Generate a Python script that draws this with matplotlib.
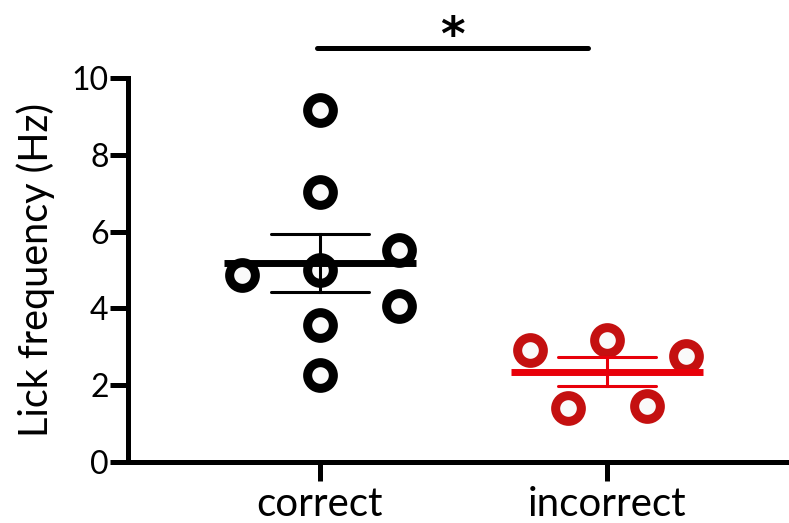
"""
Lick frequency for correct vs incorrect trials: individual points with mean +/- SEM.
"""
import numpy as np
import matplotlib
matplotlib.use('Agg')
import matplotlib.pyplot as plt

groups = ['correct', 'incorrect']

# individual animals (Hz) and their horizontal jitter within each group
correct_vals = [9.17, 7.02, 4.88, 5.01, 5.51, 4.05, 3.56, 2.27]
correct_offsets = [0.0, 0.0, -0.273, 0.0, 0.275, 0.275, 0.0, 0.0]
incorrect_vals = [2.91, 3.18, 2.77, 1.41, 1.47]
incorrect_offsets = [-0.27, 0.0, 0.275, -0.135, 0.138]

yticks = [0, 2, 4, 6, 8, 10]

plt.rcParams['font.family'] = ['Lato', 'DejaVu Sans']

fig = plt.figure(figsize=(7.89, 5.23), dpi=100)
ax = fig.add_axes([0.1622, 0.1166, 0.8378, 0.7343])

series = [
    (correct_vals, correct_offsets, 'black', 'black'),
    (incorrect_vals, incorrect_offsets, '#c41010', '#e8000a'),
]

for pos, (vals, offs, mcolor, lcolor) in enumerate(series):
    vals = np.asarray(vals)
    x = pos + np.asarray(offs)
    ax.plot(x, vals, 'o', ms=18.5, mew=6.5, mfc='#fafafa', mec=mcolor,
            linestyle='none', zorder=3, clip_on=False)

    mean = vals.mean()
    sem = vals.std(ddof=1) / np.sqrt(len(vals))
    ax.plot([pos - 0.333, pos + 0.333], [mean, mean], color=lcolor, lw=5, zorder=4,
            solid_capstyle='butt')
    ax.plot([pos, pos], [mean - sem, mean + sem], color=lcolor, lw=2.2, zorder=4)
    for cap in (mean - sem, mean + sem):
        ax.plot([pos - 0.172, pos + 0.172], [cap, cap], color=lcolor, lw=2.2, zorder=4,
                solid_capstyle='round')

# significance bar
ax.plot([-0.01, 0.934], [10.79, 10.79], color='black', lw=3.6,
        solid_capstyle='round', clip_on=False)
ax.text(0.46, 10.72, '*', ha='center', va='baseline', fontsize=34, fontweight='bold',
        family='DejaVu Sans', clip_on=False)

ax.set_xlim(-0.669, 1.634)
ax.set_ylim(0, 10)
ax.set_xticks([0, 1])
ax.set_xticklabels(groups, fontsize=29)
ax.set_yticks(yticks)
ax.set_yticklabels([str(t) for t in yticks], fontsize=23)
ax.set_ylabel('Lick frequency (Hz)', fontsize=28.5, labelpad=12)

for side in ('top', 'right'):
    ax.spines[side].set_visible(False)
for side in ('left', 'bottom'):
    ax.spines[side].set_linewidth(3.6)
    ax.spines[side].set_capstyle('projecting')
ax.tick_params(axis='x', length=14, width=3.6, pad=3)
ax.tick_params(axis='y', length=13, width=3.6, pad=1)

fig.savefig('out.png', dpi=100)
